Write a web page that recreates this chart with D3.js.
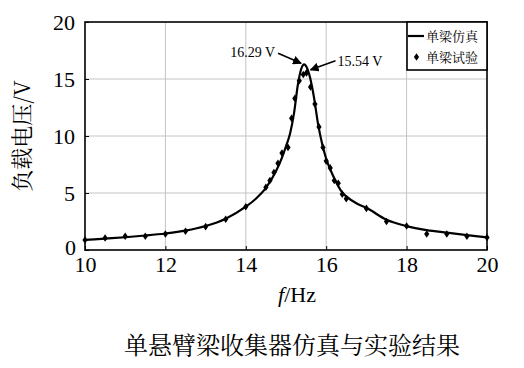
<!DOCTYPE html>
<html><head><meta charset="utf-8">
<script src="https://cdn.jsdelivr.net/npm/d3@7"></script>
<style>body{margin:0;background:#fff}
.sf{font-family:"Liberation Serif","Times New Roman",Times,"DejaVu Serif",serif}
.cj{font-family:"Noto Serif CJK SC","Noto Sans CJK SC",sans-serif}
</style>
</head><body>
<svg id="c" width="524" height="368"></svg>
<script>
// Simulation curve (单梁仿真)
const simF = [10,10.5,11,11.5,12,12.5,13,13.5,14,14.25,14.5,14.75,14.9,15.0,15.1,15.2,15.3,15.38,15.45,15.52,15.6,15.7,15.8,15.9,16.0,16.2,16.4,16.5,16.75,17,17.5,18,18.5,19,19.5,20];
const simV = [0.88,1.0,1.12,1.27,1.45,1.7,2.1,2.75,3.8,4.5,5.45,6.9,8.1,9.1,10.2,12.0,14.6,15.9,16.29,16.0,15.1,13.3,11.0,9.3,8.0,6.3,5.05,4.7,4.1,3.7,2.65,2.1,1.75,1.52,1.3,1.1];
// Experiment points (单梁试验)
const expF = [10,10.5,11,11.5,12,12.5,13,13.5,14,14.5,14.6,14.7,14.8,14.9,15.05,15.14,15.22,15.33,15.43,15.51,15.61,15.72,15.82,15.92,16.0,16.1,16.2,16.3,16.4,16.5,17,17.5,18,18.5,19,19.5,20];
const expV = [0.88,1.05,1.2,1.2,1.4,1.64,2.05,2.7,3.8,5.5,6.1,6.8,7.6,8.5,9.0,11.55,13.3,14.85,15.4,15.54,14.3,12.8,10.8,9.0,7.8,7.2,6.1,5.85,4.9,4.5,3.65,2.5,2.1,1.4,1.4,1.2,1.1];
const xTicks = [10,12,14,16,18,20];
const yTicks = [0,5,10,15,20];
const legendLabels = ["单梁仿真","单梁试验"];
const annotations = [{f:15.45,v:16.29,text:"16.29 V"},{f:15.51,v:15.54,text:"15.54 V"}];
const xTitle = "Hz", yTitle = "负载电压/V", caption = "单悬臂梁收集器仿真与实验结果";

const svg = d3.select("#c");
const L=85,R=487,T=22,B=250;
const x = d3.scaleLinear().domain([10,20]).range([L,R]);
const y = d3.scaleLinear().domain([0,20]).range([B,T]);

// grid
svg.append("g").selectAll("line").data(xTicks.slice(1,-1)).join("line")
  .attr("x1",d=>x(d)).attr("x2",d=>x(d)).attr("y1",T).attr("y2",B)
  .attr("stroke","#c4c4c4").attr("stroke-width",1);
svg.append("g").selectAll("line").data(yTicks.slice(1,-1)).join("line")
  .attr("y1",d=>y(d)).attr("y2",d=>y(d)).attr("x1",L).attr("x2",R)
  .attr("stroke","#c4c4c4").attr("stroke-width",1);

// axes
const xa = svg.append("g").attr("transform",`translate(0,${B})`)
  .call(d3.axisBottom(x).tickValues(xTicks).tickSizeInner(-4).tickSizeOuter(0).tickPadding(6));
const ya = svg.append("g").attr("transform",`translate(${L},0)`)
  .call(d3.axisLeft(y).tickValues(yTicks).tickSizeInner(-4).tickSizeOuter(0).tickPadding(10));
[xa,ya].forEach(g=>{
  g.attr("font-family",null).attr("font-size",null);
  g.select(".domain").remove();
  g.selectAll("line").attr("stroke","#000");
  g.selectAll("text").attr("class","sf").style("font-size","22px").attr("fill","#000");
});
ya.selectAll(".tick").filter(d=>d===0).select("text").attr("dy","0.2em").attr("x",-9);

// frame
svg.append("rect").attr("x",L).attr("y",T).attr("width",R-L).attr("height",B-T)
  .attr("fill","none").attr("stroke","#000").attr("stroke-width",1.6);

// curve
svg.append("path").datum(simF.map((f,i)=>[f,simV[i]]))
  .attr("d",d3.line().x(d=>x(d[0])).y(d=>y(d[1])).curve(d3.curveMonotoneX))
  .attr("fill","none").attr("stroke","#000").attr("stroke-width",2.2);

// points
const diamond = "M0,-3.8L2.6,0L0,3.8L-2.6,0Z";
svg.append("g").selectAll("path").data(expF.map((f,i)=>[f,expV[i]])).join("path")
  .attr("d",diamond).attr("transform",d=>`translate(${x(d[0])},${y(d[1])})`).attr("fill","#000");

// arrows
const defs = svg.append("defs");
defs.append("marker").attr("id","ah").attr("viewBox","0 0 10 10").attr("refX",9).attr("refY",5)
  .attr("markerWidth",9).attr("markerHeight",9).attr("markerUnits","userSpaceOnUse").attr("orient","auto")
  .append("path").attr("d","M0,0L10,5L0,10Z").attr("fill","#000");
const a0 = annotations[0], a1 = annotations[1];
svg.append("line").attr("x1",x(a0.f)-26).attr("y1",y(a0.v)-11).attr("x2",x(a0.f)-3).attr("y2",y(a0.v)-1)
  .attr("stroke","#000").attr("stroke-width",1.6).attr("marker-end","url(#ah)");
svg.append("text").attr("class","sf").attr("x",x(a0.f)-29).attr("y",y(a0.v)-7).attr("text-anchor","end")
  .style("font-size","14px").text(a0.text);
svg.append("line").attr("x1",x(a1.f)+29).attr("y1",y(a1.v)-12).attr("x2",x(a1.f)+4).attr("y2",y(a1.v)-3)
  .attr("stroke","#000").attr("stroke-width",1.6).attr("marker-end","url(#ah)");
svg.append("text").attr("class","sf").attr("x",x(a1.f)+31).attr("y",y(a1.v)-7).attr("text-anchor","start")
  .style("font-size","14px").text(a1.text);

// legend
const lg = svg.append("g");
lg.append("rect").attr("x",407).attr("y",T).attr("width",R-407).attr("height",48)
  .attr("fill","#fff").attr("stroke","#000").attr("stroke-width",1.6);
lg.append("line").attr("x1",408).attr("x2",424).attr("y1",36).attr("y2",36).attr("stroke","#000").attr("stroke-width",2.2);
lg.append("path").attr("d",diamond).attr("transform","translate(416.5,57)").attr("fill","#000");
lg.selectAll("text").data(legendLabels).join("text").attr("class","cj")
  .attr("x",426).attr("y",(d,i)=>36+i*21).attr("dy","0.35em")
  .style("font-size","13px").text(d=>d);

// axis titles
const xt = svg.append("text").attr("class","sf").attr("x",297).attr("y",302).attr("text-anchor","middle")
  .style("font-size","22px");
xt.append("tspan").attr("font-style","italic").text("f");
xt.append("tspan").text("/"+xTitle);
svg.append("text").attr("class","cj").attr("transform","translate(30,136) rotate(-90)").attr("text-anchor","middle")
  .style("font-size","22px").text(yTitle);

// caption
svg.append("text").attr("class","cj").attr("x",292).attr("y",354).attr("text-anchor","middle")
  .style("font-size","24px").text(caption);
</script>
</body></html>
